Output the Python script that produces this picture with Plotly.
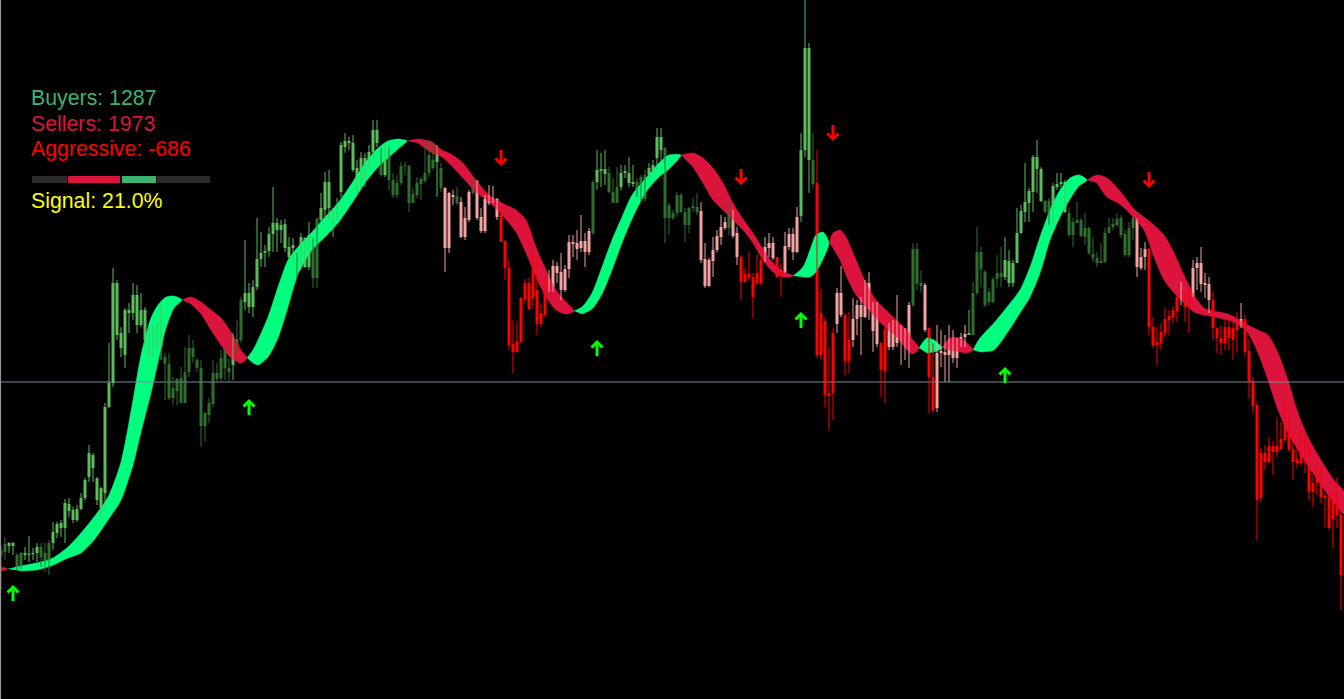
import plotly.graph_objects as go

W, H = 1344, 699

# ---------------- candle data (price axis in chart-row units, inverted) -------------
wick_top = [
    545,537,542,542,553,552,547,536,548,543, 543,543,540,522,522,520,499,498,507,505,
    493,478,445,453,477,487,403,343,268,280, 327,308,303,283,285,293,307,327,325,323,
    305,353,353,377,378,367,347,335,340,358, 360,412,398,360,363,350,347,358,333,320,
    297,240,283,280,218,232,245,227,187,218, 220,219,237,238,253,233,237,222,238,217,
    193,172,170,208,198,142,133,137,135,160, 152,153,145,120,120,148,143,147,173,175,
    162,162,165,188,177,177,140,140,142,145, 163,187,192,190,187,197,207,190,177,180,
    208,195,185,186,198,207,240,260,320,322, 297,279,278,253,258,303,278,270,260,262,
    253,265,235,235,230,215,233,228,180,150, 153,150,167,178,167,165,165,157,165,178,
    175,170,163,160,128,128,147,203,210,192, 193,208,207,198,193,202,243,258,237,230,
    215,217,202,210,227,255,267,252,273,255, 257,237,233,237,257,263,232,228,228,207,
    133,0,43,133,150,290,317,347,328,288, 266,313,312,298,300,297,280,272,302,302,
    342,327,323,320,295,325,328,302,243,243, 270,283,327,343,325,330,335,325,330,338,
    333,325,310,282,227,247,270,288,277,255, 247,237,250,260,208,205,163,188,155,140,
    167,200,198,183,173,173,180,208,218,202, 218,213,227,237,252,243,228,218,218,213,
    215,230,222,215,218,248,242,248,317,327, 323,308,310,307,295,282,292,288,260,257,
    247,273,277,292,327,325,320,319,322,312, 303,315,340,377,402,448,445,437,441,418,
    422,400,417,433,447,430,433,442,475,462, 467,493,493,490,477,510,
]
body_top = [
    550,544,543,543,555,553,553,554,553,547, 547,553,543,532,524,523,503,504,510,509,
    498,480,453,455,478,488,407,383,283,283, 333,310,310,295,295,310,310,333,338,333,
    333,357,364,388,379,378,372,348,348,360, 368,413,403,373,373,358,348,368,338,339,
    300,293,293,287,259,253,251,234,223,223, 225,224,247,245,261,237,238,235,242,219,
    208,182,182,213,205,145,141,141,143,168, 158,158,152,130,130,150,152,154,180,183,
    166,165,166,194,183,179,173,155,160,153, 168,188,193,195,196,202,218,192,178,181,
    217,199,200,199,199,215,241,268,344,341, 298,283,283,270,290,313,280,281,266,266,
    272,269,242,242,243,241,241,231,182,170, 169,169,173,192,187,173,171,173,182,182,
    177,175,168,165,137,137,148,205,213,195, 195,212,208,206,207,211,259,260,250,236,
    227,222,213,213,233,257,274,274,277,273, 260,247,243,243,257,272,246,234,234,217,
    150,48,48,160,183,313,321,393,333,293, 293,315,340,319,305,305,283,283,305,305,
    343,329,330,327,328,330,332,305,249,249, 283,285,328,377,353,351,352,348,348,345,
    337,334,333,293,252,252,272,292,279,273, 273,260,261,263,233,211,202,191,157,157,
    169,201,201,186,184,182,182,213,222,220, 220,228,228,254,258,261,233,227,224,219,
    218,234,228,218,219,257,249,249,327,342, 332,319,316,310,297,294,296,294,268,263,
    263,283,284,300,328,338,327,327,328,323, 319,319,351,381,405,453,453,446,446,446,
    439,420,420,449,459,443,443,453,483,468, 468,496,497,497,497,515,
]
body_bot = [
    556,552,546,546,568,568,555,555,554,553, 557,565,565,543,533,528,528,511,520,520,
    509,498,477,468,500,508,493,407,383,335, 348,355,313,313,325,325,340,353,347,343,
    347,364,398,398,391,403,403,372,357,368, 426,426,415,404,379,378,368,372,365,350,
    340,302,307,307,287,259,253,251,234,230, 230,248,257,248,270,267,267,267,278,278,
    220,210,208,220,217,192,147,143,170,180, 170,167,163,152,143,175,175,180,195,195,
    183,166,203,203,195,184,181,173,168,162, 188,248,248,197,203,237,237,220,193,218,
    231,231,203,202,217,242,268,345,352,352, 342,300,309,298,324,324,315,288,287,273,
    290,290,269,244,249,248,252,252,233,182, 171,174,192,203,203,187,173,183,184,190,
    199,199,175,170,158,150,218,218,218,213, 212,225,225,208,212,260,286,286,261,250,
    237,228,228,236,257,282,282,277,297,283, 283,260,248,258,277,274,272,247,252,252,
    216,150,160,184,355,355,395,396,393,324, 315,361,361,340,319,317,317,306,331,344,
    370,371,347,347,343,335,343,342,305,284, 286,330,377,410,408,353,355,355,358,358,
    345,337,335,335,293,269,305,302,302,279, 277,277,283,283,263,233,212,203,192,169,
    201,212,224,222,187,184,212,235,235,223, 236,237,253,258,263,263,262,233,227,225,
    235,255,255,228,267,268,257,327,345,345, 343,333,320,317,311,296,307,304,296,268,
    284,285,300,328,338,343,343,338,340,330, 326,352,382,406,500,498,462,462,452,452,
    449,440,450,462,463,463,453,492,492,483, 497,498,528,519,515,575,
]
wick_bot = [
    590,560,553,555,570,570,560,562,560,562, 567,572,575,550,538,537,543,517,523,522,
    510,500,482,482,505,518,510,408,387,340, 357,368,333,320,333,327,347,357,357,348,
    360,400,400,405,405,403,403,377,363,372, 447,442,423,407,382,382,380,383,380,353,
    343,310,313,317,290,267,267,257,252,252, 243,252,260,263,277,270,268,270,288,288,
    222,217,220,237,220,197,153,150,172,193, 190,187,170,157,147,177,177,190,198,198,
    185,175,212,203,198,200,183,177,170,197, 192,272,253,205,205,238,240,222,195,220,
    233,233,205,203,220,242,280,350,373,353, 343,303,310,307,335,327,317,292,292,283,
    300,292,278,257,260,252,267,255,235,190, 187,185,193,203,203,190,178,187,187,197,
    202,202,177,175,170,163,243,235,220,217, 213,242,233,212,215,263,288,287,277,252,
    245,230,235,238,265,300,283,280,318,285, 285,262,257,260,278,297,273,250,260,253,
    222,157,193,188,358,360,407,430,420,333, 317,375,373,347,335,355,318,320,352,347,
    397,403,350,350,347,365,360,368,307,290, 292,332,413,413,412,367,382,382,363,368,
    347,347,335,335,295,287,307,305,303,287, 287,280,287,287,263,234,222,222,212,193,
    202,213,225,223,190,187,213,237,247,223, 237,245,255,262,267,263,263,233,230,227,
    238,257,257,240,277,270,270,335,348,365, 350,337,335,323,322,305,322,333,297,290,
    292,298,313,340,353,355,350,350,360,353, 328,357,398,413,540,503,470,463,475,457,
    450,442,452,480,468,465,473,500,507,495, 503,527,530,548,528,610,
]
# G = bull (trend up), g = bear (trend up), p = bull (trend down), r = bear (trend down)
candle_kind = (
    "ggGGggGGGG" "gggGGGGGGG" "GGGGGGGGGG" "GGGGGGGGGG" "Gggggggggg" "ggggggggGg"
    "gGGGGGGGGG" "GGGGgGGGgg" "GGGGGGGGGG" "GGGGGgGggg" "gggggggggG" "gpppgpppgp"
    "ppppprrrrr" "rrrrrrrppp" "ppppppppgG" "GGgggGGGGg" "ggGGGGgggg" "gggggppppp"
    "ppgpprrrrr" "rppprrpppp" "GGGgrrrrrp" "prrppppppp" "rrppppppgg" "gprrpppppp"
    "ppGggggggg" "gGGGGGGGGG" "GggGGGGggg" "gggggggggg" "ggggppprrr" "rrrrrprrpp"
    "ppprrrrrrr" "prrrrrrrrr" "rrrrrrrrrr" "rrrrrr"
)

# ---------------- trend ribbon (two smoothed averages) ----------------
band_bar = [0, 1.75, 5, 8.75, 12.5, 16.75, 20, 23.25, 26.75, 30, 33, 35, 37.5, 39.25, 41.25, 43.25,
            45.25, 47.5, 50, 52.5, 55, 57.5, 60, 61.5,
            63, 64.25, 66.75, 69.25, 71.75, 74.25, 77.75, 81, 84.25, 87.75, 91, 94.25, 96.75, 99.25, 101.5,
            104.25, 107.75, 110.25, 112, 115.25, 118.75, 122, 125.25, 128.75, 131.25, 133.75, 136.25,
            138.75, 141.25, 143.25,
            145.25, 147.75, 150.25, 152.75, 155.25, 157.75, 161.25, 164.5, 167, 170,
            173, 175.5, 178, 180.5, 183, 185.5, 188, 190.5, 193, 195.5, 198,
            200.5, 202.25, 203.75, 205.5, 207,
            208, 209.75, 211.25, 213.75, 216.25, 218.75, 221.25, 224, 226.5, 228, 229.5,
            231.5, 233.25, 235.25,
            237.25, 239.75, 241.5, 243,
            244.75, 248.25, 251.5, 254.75, 257.25, 259.75, 262.25, 264.75, 267.25, 269.5, 271.5,
            274, 276.5, 280, 283.25, 285.75, 288.25, 290.75, 293.25, 295.75, 298.25, 300.75, 303.25,
            306.75, 309.25, 311.75, 314.25, 316.75, 319.25, 321.75, 324.25, 326.75, 330, 333.25, 336]
band_upper = [567, 569, 566, 563, 559, 547, 533, 517, 497, 462, 400, 355, 318, 305, 297, 296,
              300, 297, 302, 310, 318, 332, 350, 358,
              350, 340, 317, 287, 260, 247, 232, 217, 203, 183, 163, 148, 141, 139, 141,
              139, 142, 150, 153, 162, 180, 195, 203, 210, 220, 247, 270,
              290, 302, 311,
              307, 293, 267, 240, 217, 195, 178, 163, 155, 155,
              153, 158, 168, 183, 203, 219, 233, 249, 263, 271, 276,
              267, 250, 235, 232, 243,
              233, 230, 237, 260, 283, 300, 310, 321, 330, 340, 348,
              338, 340, 348,
              338, 338, 343, 350,
              338, 323, 307, 290, 267, 237, 210, 190, 178, 175, 180,
              175, 178, 192, 209, 217, 225, 235, 253, 275, 295, 308, 311,
              314, 319, 325, 330, 335, 353, 380, 413, 437, 460, 480, 493]
band_lower = [571, 569, 571, 570, 566, 558, 553, 540, 520, 500, 465, 432, 393, 362, 328, 308,
              300, 304, 314, 330, 345, 358, 363, 358,
              363, 365, 357, 338, 307, 274, 250, 237, 223, 203, 183, 167, 158, 149, 141,
              143, 153, 157, 163, 177, 192, 202, 215, 232, 253, 277, 297,
              310, 314, 311,
              314, 309, 294, 270, 243, 219, 192, 177, 169, 155,
              167, 183, 200, 210, 220, 230, 243, 260, 272, 277, 276,
              277, 277, 272, 259, 243,
              248, 260, 275, 295, 307, 318, 328, 337, 350, 354, 348,
              353, 352, 348,
              350, 352, 353, 350,
              352, 350, 333, 313, 297, 273, 240, 217, 199, 186, 180,
              183, 197, 205, 218, 230, 257, 280, 293, 303, 312, 315, 317,
              320, 324, 333, 353, 380, 410, 433, 450, 466, 485, 503, 515]
# trend of each ribbon point: u = up (green), d = down (red), x = crossover
band_trend = ("dx" "uuuuuuuuuuuuuu" "x" "dddddd" "x" "uuuuuuuuuuuuuu" "x"
              "dddddddddddddd" "x" "uuuuuuuuu" "x" "dddddddddd" "x" "uuuu" "x"
              "dddddddddd" "x" "uu" "x" "ddd" "x" "uuuuuuuuuu" "x"
              "dddddddddddddddddddddddd")

# ---------------- signal arrows ----------------
up_bar = [3, 62, 149, 200, 251]
up_price = [594, 408, 349, 321, 376]
dn_bar = [125, 185, 208, 287]
dn_price = [157, 176, 132, 179]

level_price = 382

# ---------------- info panel ----------------
buyers, sellers = 1287, 1973
aggressive = buyers - sellers
signal_pct = 21.0

n = len(wick_top)
assert len(body_top) == n and len(body_bot) == n and len(wick_bot) == n and len(candle_kind) == n
assert len(band_bar) == len(band_upper) == len(band_lower) == len(band_trend)

kind_color = {'G': '#5cbc5c', 'g': '#2f6e2f', 'p': '#f4a3a3', 'r': '#ff0000'}
band_color = {'u': '#00ff7f', 'd': '#dc143c'}

BAR_PX = 4.0   # screen pixels per bar (x), price units are screen rows (y)

fig = go.Figure()

# ribbon polygons, split at crossovers
segs = []
cur = []
cur_state = None
for i, st in enumerate(band_trend):
    cur.append(i)
    if st == 'x':
        if len(cur) > 1:
            segs.append((cur_state, cur))
        cur = [i]
        cur_state = None
    else:
        cur_state = st
if len(cur) > 1:
    segs.append((cur_state, cur))

for st, idx in segs:
    up_idx = idx
    lo_idx = list(reversed(idx))
    if band_trend[lo_idx[0]] == 'x':
        lo_idx = lo_idx[1:]
    if band_trend[lo_idx[-1]] == 'x':
        lo_idx = lo_idx[:-1]
    xs = [band_bar[k] for k in up_idx] + [band_bar[k] for k in lo_idx]
    ys = [band_upper[k] for k in up_idx] + [band_lower[k] for k in lo_idx]
    fig.add_trace(go.Scatter(x=xs, y=ys, mode='lines', fill='toself',
                             fillcolor=band_color[st],
                             line=dict(width=0.5, color=band_color[st], shape='spline', smoothing=0.7),
                             hoverinfo='skip'))

# horizontal level
fig.add_trace(go.Scatter(x=[-0.25, n - 0.25], y=[level_price, level_price], mode='lines',
                         line=dict(color='#7a8a9e', width=1), hoverinfo='skip'))

# wicks by colour
for k, col in kind_color.items():
    xs, ys = [], []
    for i in range(n):
        if candle_kind[i] == k:
            xs += [i, i, None]
            ys += [wick_top[i], wick_bot[i], None]
    fig.add_trace(go.Scatter(x=xs, y=ys, mode='lines', line=dict(color=col, width=1),
                             hoverinfo='skip'))

# bodies
heights = [max(body_bot[i] - body_top[i], 1) for i in range(n)]
fig.add_trace(go.Bar(x=list(range(n)), y=heights, base=body_top, width=0.75,
                     marker=dict(color=[kind_color[c] for c in candle_kind], line=dict(width=0)),
                     hoverinfo='skip'))

# arrows: chevron head + shaft, drawn around each signal point
def arrow_path(bars, prices, direction):
    xs, ys = [], []
    s = -1 if direction == 'up' else 1
    for b, p in zip(bars, prices):
        tip = p + s * 7
        head = p + s * 1.5
        tail = p - s * 7
        dx = 5.5 / BAR_PX
        xs += [b - dx, b, b + dx, None, b, b, None]
        ys += [head, tip, head, None, tip + (-s) * 0.5, tail, None]
    return xs, ys

ax, ay = arrow_path(up_bar, up_price, 'up')
fig.add_trace(go.Scatter(x=ax, y=ay, mode='lines', line=dict(color='#00ff00', width=3),
                         hoverinfo='skip'))
ax, ay = arrow_path(dn_bar, dn_price, 'down')
fig.add_trace(go.Scatter(x=ax, y=ay, mode='lines', line=dict(color='#ff0000', width=3),
                         hoverinfo='skip'))

# info panel
def px(x):
    return x / W

def py(y):
    return 1 - y / H

font = 'Liberation Sans, Arial, sans-serif'
lines = [
    (f"Buyers: {buyers}", '#3cb371', 98),
    (f"Sellers: {sellers}", '#dc143c', 124),
    (f"Aggressive: {aggressive}", '#ff0000', 149),
    (f"Signal: {signal_pct:.1f}%", '#ffff00', 201),
]
annotations = []
for txt, col, yy in lines:
    annotations.append(dict(text=txt, x=px(29), y=py(yy), xref='paper', yref='paper',
                            xanchor='left', yanchor='middle', showarrow=False,
                            font=dict(family=font, size=21.3, color=col)))

shapes = []
bar_parts = [(32, 67, '#2b2b2b'), (68, 120, '#dc143c'), (122, 156, '#3cb371'), (157, 210, '#2b2b2b')]
for x0, x1, col in bar_parts:
    shapes.append(dict(type='rect', xref='paper', yref='paper', x0=px(x0), x1=px(x1),
                       y0=py(183), y1=py(176), fillcolor=col, line=dict(width=0), layer='above'))
shapes.append(dict(type='line', xref='paper', yref='paper', x0=px(0.5), x1=px(0.5), y0=0, y1=1,
                   line=dict(color='#9a9a9a', width=1), layer='above'))

fig.update_layout(
    width=W, height=H, margin=dict(l=0, r=0, t=0, b=0),
    paper_bgcolor='#000000', plot_bgcolor='#000000',
    showlegend=False, hovermode=False, barmode='overlay',
    xaxis=dict(range=[-0.25, n - 0.25], visible=False, fixedrange=True),
    yaxis=dict(range=[H, 0], visible=False, fixedrange=True),
    annotations=annotations, shapes=shapes,
)

fig.write_html("out.html", config={'displayModeBar': False},
               post_script="document.body.style.margin='0';document.body.style.background='#000';"
                           "document.body.style.overflow='hidden';")
